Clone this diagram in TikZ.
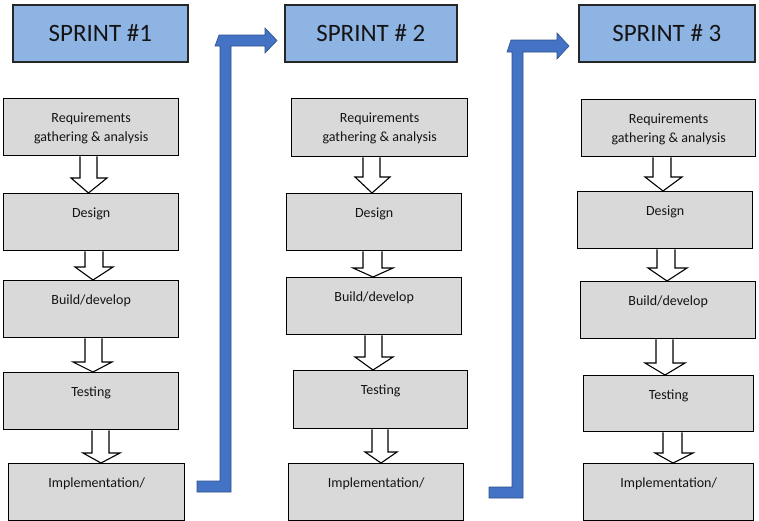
\documentclass[tikz,border=0pt]{standalone}
\usepackage{fontspec}
\setmainfont{Carlito}
\usetikzlibrary{backgrounds}
\definecolor{hdrblue}{RGB}{142,180,227}
\definecolor{boxgray}{RGB}{217,217,217}
\definecolor{arrblue}{RGB}{68,114,196}
\definecolor{txtc}{RGB}{20,20,20}
\tikzset{
  hdr/.style={draw=black!85, line width=1.6pt, fill=hdrblue, inner sep=0pt,
    anchor=north west, minimum height=57pt, font=\fontsize{25}{30}\selectfont, text=txtc},
  stepbox/.style={draw=black, line width=1.3pt, fill=boxgray, inner sep=0pt,
    anchor=north west, font=\fontsize{14}{19}\selectfont, text height=24pt, text=txtc},
  barrow/.style={draw=black, line width=1.1pt, fill=white, line join=miter},
  bluearrow/.style={fill=arrblue, draw=arrblue!70!black, line width=0.6pt, line join=miter}
}
% name, x, y, width, height, text depth, text
\newcommand\stepnode[7]{\node[stepbox, minimum width=#4pt, minimum height=#5pt, text depth=#6pt] (#1) at (#2,#3) {#7};}
% from, to, shaft left, shaft right, head left, head right, tip x, head start y
\newcommand\blockarr[8]{\draw[barrow] (#3,0 |- #1.south) -- (#3,#8) -- (#5,#8) -- (#7,0 |- #2.north) -- (#6,#8) -- (#4,#8) -- (#4,0 |- #1.south);}
\newcommand\reqtext{\begin{tabular}[t]{@{}c@{}}Requirements\\gathering \& analysis\end{tabular}}
\begin{document}
\begin{tikzpicture}[x=1pt,y=-1pt]
\useasboundingbox (0,0) rectangle (759,520);
% headers
\node[hdr, minimum width=175pt] (h1) at (12,4) {SPRINT \#1};
\node[hdr, minimum width=172pt] (h2) at (284,4) {SPRINT \# 2};
\node[hdr, minimum width=176pt] (h3) at (578,4) {SPRINT \# 3};
% column 1
\stepnode{r1}{3}{98}{175}{57}{33}{\reqtext}
\stepnode{d1}{3}{193}{175}{57}{33}{Design}
\stepnode{b1}{3}{280}{175}{57}{33}{Build/develop}
\stepnode{t1}{3}{372}{175}{57}{33}{Testing}
\stepnode{i1}{8}{463}{176}{57}{33}{Implementation/}
% column 2
\stepnode{r2}{291}{98}{176}{58}{34}{\reqtext}
\stepnode{d2}{286}{193}{175}{57}{33}{Design}
\stepnode{b2}{286}{277}{175}{57}{33}{Build/develop}
\stepnode{t2}{293}{370}{174}{58}{34}{Testing}
\stepnode{i2}{288}{463}{175}{57}{33}{Implementation/}
% column 3
\stepnode{r3}{581}{99}{174}{57}{33}{\reqtext}
\stepnode{d3}{577}{191}{175}{57}{33}{Design}
\stepnode{b3}{580}{281}{175}{57}{33}{Build/develop}
\stepnode{t3}{583}{375}{170}{56}{32}{Testing}
\stepnode{i3}{583}{463}{170}{57}{33}{Implementation/}
\begin{pgfonlayer}{background}
\fill[white] (0,0) rectangle (759,520);
\blockarr{r1}{d1}{80}{97}{71}{107}{88.5}{178}
\blockarr{d1}{b1}{85}{103}{75}{113}{93}{267}
\blockarr{b1}{t1}{85}{102}{73}{112}{93}{362}
\blockarr{t1}{i1}{92}{109}{83}{120}{101}{453}
\blockarr{r2}{d2}{363}{380}{355}{390}{372}{177}
\blockarr{d2}{b2}{363}{382}{353}{393}{373}{268}
\blockarr{b2}{t2}{365}{382}{355}{393}{373}{357}
\blockarr{t2}{i2}{372}{388}{365}{397}{381}{452}
\blockarr{r3}{d3}{653}{671}{645}{682}{663}{177}
\blockarr{d3}{b3}{657}{675}{648}{687}{667}{268}
\blockarr{b3}{t3}{656}{673}{645}{685}{665}{363}
\blockarr{t3}{i3}{663}{682}{655}{693}{673}{453}
\end{pgfonlayer}
% blue bent arrows between sprints
\draw[bluearrow] (197,481) -- (220,481) -- (220,46) -- (215,46) -- (219,35) -- (265,35) -- (265,28)
  -- (277,40.5) -- (265,53) -- (265,46) -- (231,46) -- (231,492) -- (197,492) -- cycle;
\draw[bluearrow] (489,487) -- (512,487) -- (512,52) -- (507,52) -- (511,40) -- (557,40) -- (557,33)
  -- (569,46) -- (557,59) -- (557,52) -- (523,52) -- (523,498) -- (489,498) -- cycle;
\end{tikzpicture}
\end{document}
